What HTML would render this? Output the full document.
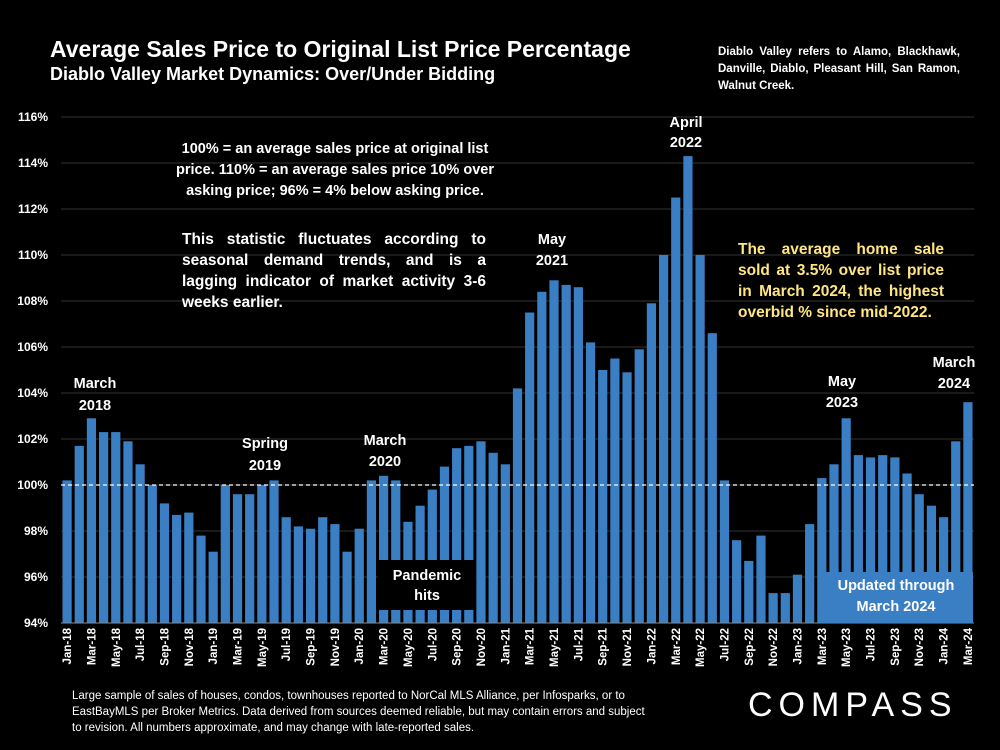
<!DOCTYPE html>
<html><head><meta charset="utf-8"><style>
body{margin:0;background:#000;width:1000px;height:750px;overflow:hidden;font-family:"Liberation Sans",sans-serif;color:#fff}
.t{position:absolute;font-weight:bold}
</style></head><body>
<div class="t" style="left:50px;top:36px;font-size:23px">Average Sales Price to Original List Price Percentage</div>
<div class="t" style="left:50px;top:64px;font-size:18px">Diablo Valley Market Dynamics: Over/Under Bidding</div>
<div class="t" style="left:718px;top:44px;width:242px;font-size:11.5px;line-height:17px;text-align:justify;text-align-last:left">Diablo Valley refers to Alamo, Blackhawk, Danville, Diablo, Pleasant Hill, San Ramon, Walnut Creek.</div>
<svg id="c" width="1000" height="750" style="position:absolute;left:0;top:0"></svg>
<div class="t" style="left:165px;top:139px;width:340px;font-size:14.5px;line-height:21px;text-align:center">100% = an average sales price at original list price. 110% = an average sales price 10% over asking price; 96% = 4% below asking price.</div>
<div class="t" style="left:182px;top:229px;width:304px;font-size:15.5px;line-height:21px;text-align:justify">This statistic fluctuates according to seasonal demand trends, and is a lagging indicator of market activity 3-6 weeks earlier.</div>
<div class="t" style="left:738px;top:239px;width:206px;font-size:15.5px;line-height:21px;text-align:justify;color:#ffe680">The average home sale sold at 3.5% over list price in March 2024, the highest overbid % since mid-2022.</div>
<div class="t" style="left:72px;top:688px;width:580px;font-size:11.5px;line-height:16px;font-weight:normal">Large sample of sales of houses, condos, townhouses reported to NorCal MLS Alliance, per Infosparks, or to EastBayMLS per Broker Metrics. Data derived from sources deemed reliable, but may contain errors and subject to revision. All numbers approximate, and may change with late-reported sales.</div>
<div style="position:absolute;left:748px;top:686px;font-size:34px;letter-spacing:6px;color:#fff">COMPASS</div>
<script>
const categories=["Jan-18","Feb-18","Mar-18","Apr-18","May-18","Jun-18","Jul-18","Aug-18","Sep-18","Oct-18","Nov-18","Dec-18","Jan-19","Feb-19","Mar-19","Apr-19","May-19","Jun-19","Jul-19","Aug-19","Sep-19","Oct-19","Nov-19","Dec-19","Jan-20","Feb-20","Mar-20","Apr-20","May-20","Jun-20","Jul-20","Aug-20","Sep-20","Oct-20","Nov-20","Dec-20","Jan-21","Feb-21","Mar-21","Apr-21","May-21","Jun-21","Jul-21","Aug-21","Sep-21","Oct-21","Nov-21","Dec-21","Jan-22","Feb-22","Mar-22","Apr-22","May-22","Jun-22","Jul-22","Aug-22","Sep-22","Oct-22","Nov-22","Dec-22","Jan-23","Feb-23","Mar-23","Apr-23","May-23","Jun-23","Jul-23","Aug-23","Sep-23","Oct-23","Nov-23","Dec-23","Jan-24","Feb-24","Mar-24"];
const values=[100.2,101.7,102.9,102.3,102.3,101.9,100.9,100.0,99.2,98.7,98.8,97.8,97.1,100.0,99.6,99.6,100.0,100.2,98.6,98.2,98.1,98.6,98.3,97.1,98.1,100.2,100.4,100.2,98.4,99.1,99.8,100.8,101.6,101.7,101.9,101.4,100.9,104.2,107.5,108.4,108.9,108.7,108.6,106.2,105.0,105.5,104.9,105.9,107.9,110.0,112.5,114.3,110.0,106.6,100.2,97.6,96.7,97.8,95.3,95.3,96.1,98.3,100.3,100.9,102.9,101.3,101.2,101.3,101.2,100.5,99.6,99.1,98.6,101.9,103.6];
const yTicks=[94,96,98,100,102,104,106,108,110,112,114,116];
const NS="http://www.w3.org/2000/svg",svg=document.getElementById('c');
const y0=623,y1=117,vmin=94,vmax=116,xl=61,xr=974;
const y=v=>y0-(v-vmin)/(vmax-vmin)*(y0-y1);
const step=(xr-xl)/categories.length,x=i=>xl+step*(i+0.5);
function mk(t,a,txt){const e=document.createElementNS(NS,t);for(const k in a)e.setAttribute(k,a[k]);if(txt!=null)e.textContent=txt;svg.appendChild(e);return e;}
yTicks.forEach(v=>{
 const g=mk('line',{x1:xl,x2:xr,y1:y(v),y2:y(v),stroke:'#333','stroke-width':1});
 
 
 const t=mk('text',{x:48,y:y(v)+4,'text-anchor':'end','font-size':12,'font-weight':'bold',fill:'#fff','font-family':'Liberation Sans'},v+'%');
 
 
});
values.forEach((v,i)=>{
 const top=Math.min(y(v),y0),h=Math.abs(y0-y(v));
 const b=mk('rect',{x:x(i)-4.6,y:top,width:9.2,height:h,fill:'#3a7fc4'});
 
 
 if(i%2===0){const t=mk('text',{transform:`translate(${x(i)+4},628) rotate(-90)`,'text-anchor':'end','font-size':11.5,'font-weight':'bold',fill:'#fff','font-family':'Liberation Sans'},categories[i]);
 
 }
});
const ax=mk('line',{x1:xl,x2:xr,y1:y0,y2:y0,stroke:'#888','stroke-width':1});


const d=mk('line',{x1:xl,x2:xr,y1:y(100),y2:y(100),stroke:'#fff','stroke-width':1.3,'stroke-dasharray':'4,3'});


const pb=mk('rect',{x:378,y:560,width:98,height:50,fill:'#000'});


const ub=mk('rect',{x:820,y:572,width:153,height:51,fill:'#3a7fc4'});


const ann=[[95,388,"March"],[95,410,"2018"],[265,448,"Spring"],[265,470,"2019"],[385,445,"March"],[385,466,"2020"],[552,244,"May"],[552,265,"2021"],[686,127,"April"],[686,147,"2022"],[842,386,"May"],[842,407,"2023"],[954,367,"March"],[954,388,"2024"],[427,580,"Pandemic"],[427,600,"hits"],[896,590,"Updated through"],[896,611,"March 2024"]];
ann.forEach(a=>{const t=mk('text',{x:a[0],y:a[1],'text-anchor':'middle','font-size':14.5,'font-weight':'bold',fill:'#fff','font-family':'Liberation Sans'},a[2]);
 
 });
</script>
</body></html>
